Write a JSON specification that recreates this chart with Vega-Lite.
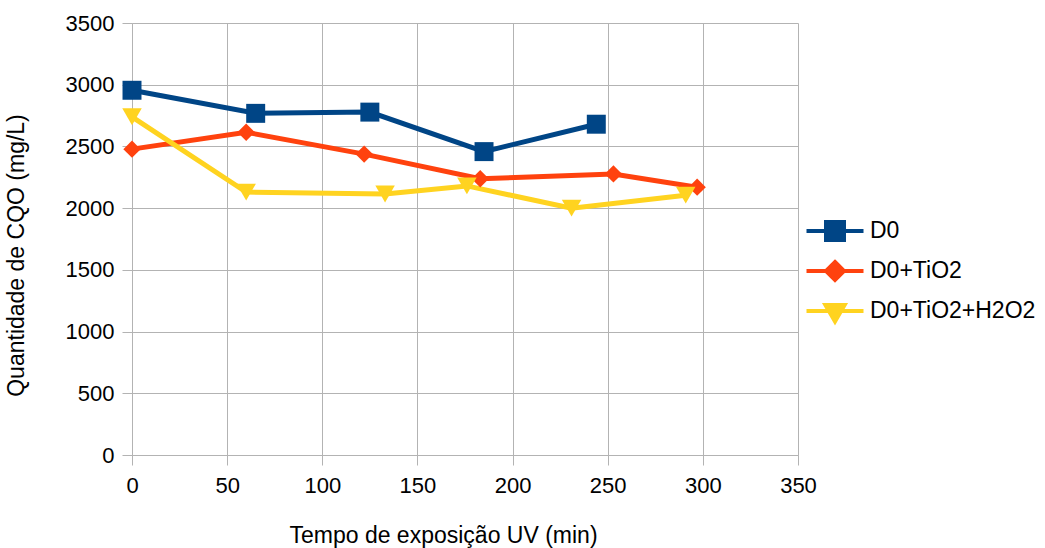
{
  "$schema": "https://vega.github.io/schema/vega-lite/v6.json",
  "width": 666,
  "height": 432,
  "autosize": {"type": "none"},
  "padding": {"left": 132, "top": 23, "right": 247, "bottom": 93},
  "background": "white",
  "config": {
    "font": "Liberation Sans",
    "view": {"stroke": null},
    "axis": {
      "gridColor": "#b3b3b3",
      "domainColor": "#b3b3b3",
      "tickColor": "#b3b3b3",
      "tickSize": 10,
      "labelColor": "black",
      "titleColor": "black",
      "labelFont": "Liberation Sans",
      "titleFont": "Liberation Sans",
      "labelFontSize": 22,
      "titleFontSize": 23,
      "titleFontWeight": "normal"
    }
  },
  "data": {
    "values": [
      {"serie": "D0", "t": 0, "cqo": 2955},
      {"serie": "D0", "t": 65, "cqo": 2768},
      {"serie": "D0", "t": 125, "cqo": 2778},
      {"serie": "D0", "t": 185, "cqo": 2458},
      {"serie": "D0", "t": 244, "cqo": 2680},
      {"serie": "D0+TiO2", "t": 0, "cqo": 2478},
      {"serie": "D0+TiO2", "t": 60, "cqo": 2615},
      {"serie": "D0+TiO2", "t": 122, "cqo": 2438},
      {"serie": "D0+TiO2", "t": 183, "cqo": 2238},
      {"serie": "D0+TiO2", "t": 253, "cqo": 2277},
      {"serie": "D0+TiO2", "t": 297, "cqo": 2170},
      {"serie": "D0+TiO2+H2O2", "t": 0, "cqo": 2740},
      {"serie": "D0+TiO2+H2O2", "t": 60, "cqo": 2130},
      {"serie": "D0+TiO2+H2O2", "t": 133, "cqo": 2115},
      {"serie": "D0+TiO2+H2O2", "t": 176, "cqo": 2180},
      {"serie": "D0+TiO2+H2O2", "t": 231, "cqo": 2000},
      {"serie": "D0+TiO2+H2O2", "t": 291, "cqo": 2105}
    ]
  },
  "encoding": {
    "x": {
      "field": "t", "type": "quantitative",
      "scale": {"domain": [0, 350], "nice": false},
      "axis": {"values": [0, 50, 100, 150, 200, 250, 300, 350], "format": "d", "title": "Tempo de exposição UV (min)", "labelPadding": 10, "titlePadding": 28, "titleX": 311, "labelFlush": false}
    },
    "y": {
      "field": "cqo", "type": "quantitative",
      "scale": {"domain": [0, 3500], "nice": false},
      "axis": {"values": [0, 500, 1000, 1500, 2000, 2500, 3000, 3500], "format": "d", "title": "Quantidade de CQO (mg/L)", "labelPadding": 8, "titlePadding": 37, "titleY": 232}
    }
  },
  "layer": [
    {
      "mark": {"type": "line", "strokeWidth": 5},
      "encoding": {
        "color": {
          "field": "serie", "type": "nominal",
          "scale": {"domain": ["D0", "D0+TiO2", "D0+TiO2+H2O2"], "range": ["#004586", "#ff420e", "#ffd320"]},
          "legend": {
            "title": null,
            "orient": "none",
            "legendX": 686,
            "legendY": 191,
            "padding": 0,
            "labelFont": "Liberation Sans",
            "labelFontSize": 23,
            "labelColor": "black",
            "labelLimit": 400,
            "symbolSize": 900,
            "symbolStrokeWidth": 4,
            "rowPadding": 6,
            "labelOffset": 18,
            "encode": {
              "symbols": {
                "update": {
                  "shape": {"signal": "datum.value === 'D0' ? 'M-1.9,0H1.9M-0.6,-0.6H0.6V0.6H-0.6Z' : datum.value === 'D0+TiO2' ? 'M-1.9,0H1.9M0,-0.6L0.6,0L0,0.6L-0.6,0Z' : 'M-1.9,0H1.9M-0.64,-0.4H0.64L0,0.7Z'"},
                  "fill": {"signal": "scale('color', datum.value)"},
                  "stroke": {"signal": "scale('color', datum.value)"},
                  "strokeWidth": {"value": 4},
                  "opacity": {"value": 1}
                }
              }
            }
          }
        }
      }
    },
    {
      "transform": [{"filter": "datum.serie === 'D0'"}],
      "mark": {"type": "point", "filled": true, "opacity": 1, "shape": "square", "size": 360, "color": "#004586"}
    },
    {
      "transform": [{"filter": "datum.serie === 'D0+TiO2'"}],
      "mark": {"type": "point", "filled": true, "opacity": 1, "shape": "diamond", "size": 300, "color": "#ff420e"}
    },
    {
      "transform": [{"filter": "datum.serie === 'D0+TiO2+H2O2'"}],
      "mark": {"type": "point", "filled": true, "opacity": 1, "shape": "triangle-down", "size": 380, "color": "#ffd320"}
    }
  ]
}
